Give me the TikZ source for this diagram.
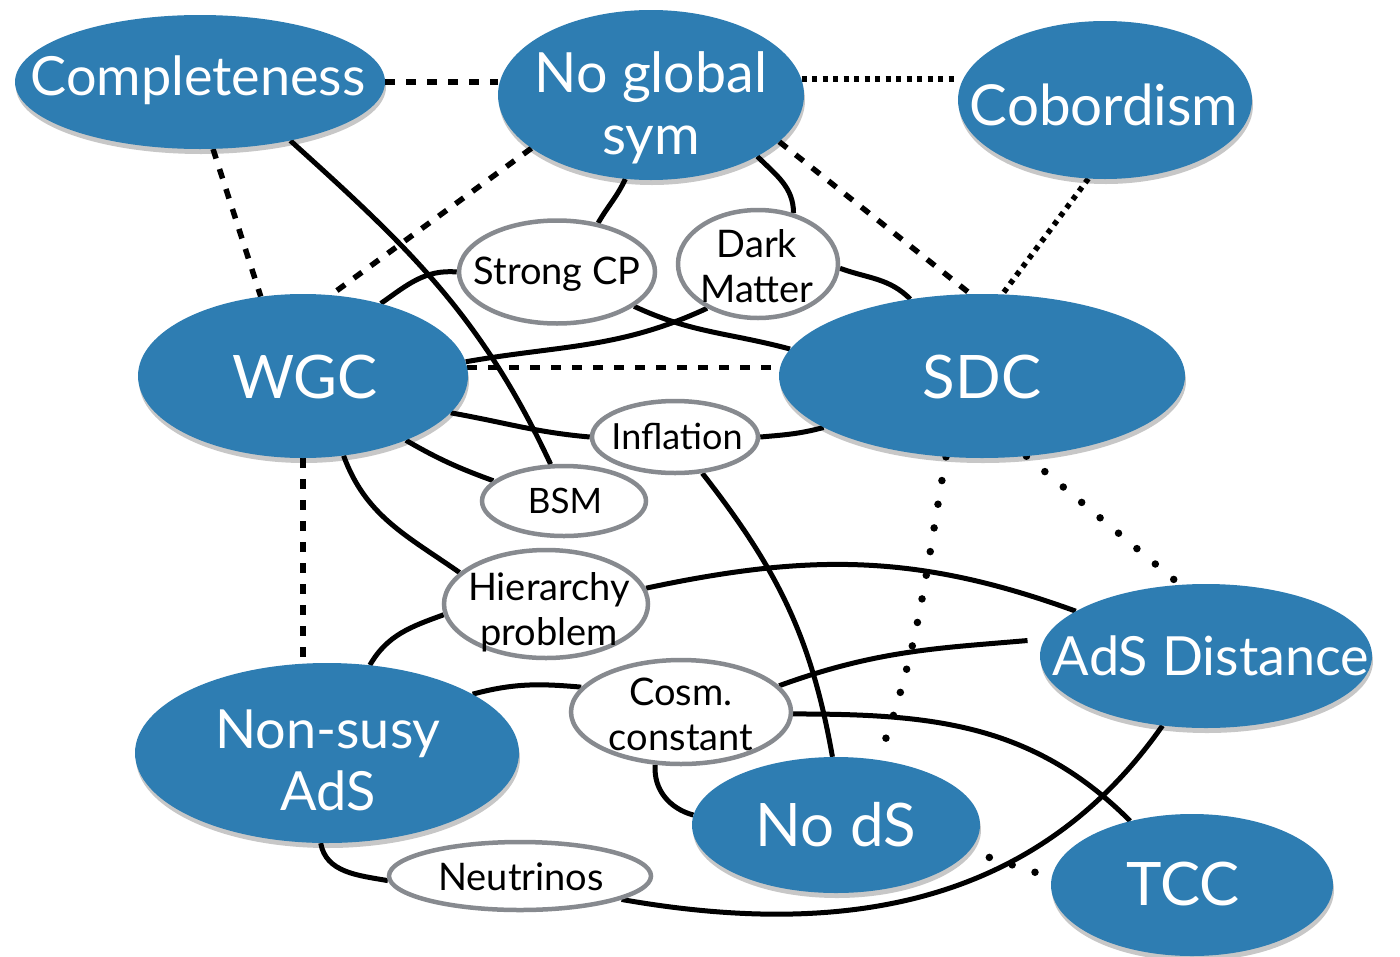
\documentclass[tikz,border=0pt]{standalone}
\usepackage{fontspec}
\setmainfont{Lato}
\usetikzlibrary{shapes.geometric,shadows,backgrounds}
\definecolor{nodeblue}{RGB}{46,125,178}
\definecolor{rimgray}{RGB}{135,138,143}
\begin{document}
\begin{tikzpicture}[x=1pt,y=-1pt,
  bigell/.style={ellipse, fill=nodeblue, inner sep=0pt,
    drop shadow={shadow xshift=1pt,shadow yshift=-5pt,opacity=0.22,fill=black}},
  bigtxt/.style={text=white, inner sep=0pt, align=center, font=\fontsize{54}{62}\selectfont},
  capstxt/.style={bigtxt, font=\fontsize{60}{62}\selectfont},
  smallell/.style={ellipse, draw=rimgray, line width=4.5pt, fill=white, inner sep=0pt},
  smalltxt/.style={text=black, inner sep=0pt, align=center, font=\fontsize{38}{45}\selectfont},
  link/.style={line width=5pt},
  dashlink/.style={line width=5.5pt, dash pattern=on 10pt off 11pt},
  sqdots/.style={line width=5.5pt, dash pattern=on 5pt off 5.5pt},
  rounddots/.style={line width=7.5pt, line cap=round, dash pattern=on 0pt off 24pt}]
\useasboundingbox (0,0) rectangle (1400,956);
\clip (0,0) rectangle (1400,956);

% big nodes
\node[bigell, minimum width=370pt, minimum height=134pt] (compl) at (200,82) {};
\node[bigell, minimum width=306pt, minimum height=170pt] (nog) at (651,95) {};
\node[bigell, minimum width=294pt, minimum height=158pt] (cob) at (1105,100) {};
\node[bigell, minimum width=330pt, minimum height=164pt] (wgc) at (303,376) {};
\node[bigell, minimum width=406pt, minimum height=164pt] (sdc) at (982,376) {};
\node[bigell, minimum width=332pt, minimum height=144pt] (ads) at (1206,656) {};
\node[bigell, minimum width=384pt, minimum height=180pt] (nons) at (327,753) {};
\node[bigell, minimum width=288pt, minimum height=136pt] (nods) at (836,825) {};
\node[bigell, minimum width=282pt, minimum height=142pt] (tcc) at (1192,885) {};

\node[bigtxt] (complt) at (198,80) {Completeness};
\node[bigtxt, font=\fontsize{55.5}{62}\selectfont] (nogt) at (651,108) {No global\\sym};
\node[bigtxt, font=\fontsize{56.5}{62}\selectfont] (cobt) at (1104,105) {Cobordism};
\node[capstxt] (wgct) at (305,377) {WGC};
\node[capstxt] (sdct) at (982,377) {SDC};
\node[bigtxt] (adst) at (1211,656) {AdS Distance};
\node[bigtxt] (nonst) at (328,760) {Non-susy\\AdS};
\node[capstxt] (nodst) at (836,825) {No dS};
\node[capstxt] (tcct) at (1183,884) {TCC};

% small nodes
\node[smallell, minimum width=196pt, minimum height=103pt] (scp) at (557,272) {};
\node[smallell, minimum width=160pt, minimum height=108pt] (dm) at (758,264) {};
\node[smallell, minimum width=166pt, minimum height=72pt] (infl) at (675,437) {};
\node[smallell, minimum width=164pt, minimum height=70pt] (bsm) at (564,501) {};
\node[smallell, minimum width=204pt, minimum height=108pt] (hier) at (546,604) {};
\node[smallell, minimum width=220pt, minimum height=104pt] (cosm) at (681,712) {};
\node[smallell, minimum width=262pt, minimum height=68pt] (neut) at (520,876) {};

\node[smalltxt] (scpt) at (557,274) {Strong CP};
\node[smalltxt] (dmt) at (757,266) {Dark\\Matter};
\node[smalltxt, font=\fontsize{36}{45}\selectfont] (inflt) at (677,436) {Inflation};
\node[smalltxt, font=\fontsize{35}{45}\selectfont] (bsmt) at (565,501) {BSM};
\node[smalltxt] (hiert) at (549,612) {Hierarchy\\problem};
\node[smalltxt] (cosmt) at (681,714) {Cosm.\\constant};
\node[smalltxt] (neutt) at (521,877) {Neutrinos};

\begin{pgfonlayer}{background}
% dashed
\draw[dashlink] (compl.east) -- (compl.east -| nog.west);
\draw[dashlink] (compl.-79) -- (wgc.118);
\draw[dashlink] (nog.-156) -- (wgc.71);
\draw[dashlink] (nog.-20) -- (sdc.98);
\draw[dashlink] (wgc.3.5) -- (wgc.3.5 -| sdc.west);
\draw[dashlink] (wgc.south) -- (wgc.south |- nons.north);
% dotted
\draw[sqdots] (nog.6) -- (nog.6 -| cob.west);
\draw[sqdots] (cob.-102) -- (sdc.76);
\draw[rounddots] (sdc.-114) to[out=-100,in=70] (nods.57);
\draw[rounddots] (sdc.-61) -- (ads.110);
\draw[rounddots, dash phase=3pt] (nods.-11) -- (tcc.177);
% solid
\draw[link] (compl.-33) to[out=-42,in=115] (bsm.110);
\draw[link] (nog.-107) to[out=-115,in=60] (scp.50);
\draw[link] (nog.-30) to[out=-45,in=90] (dm.55);
\draw[link] (scp.180) to[out=175,in=35] (wgc.43);
\draw[link] (scp.-24) to[out=-25,in=165] (sdc.172);
\draw[link] (dm.-139) to[out=-155,in=10] (wgc.5.6);
\draw[link] (dm.-3) to[out=-20,in=135] (sdc.133);
\draw[link] (wgc.-14) to[out=-10,in=175] (infl.180);
\draw[link] (infl.0) to[out=5,in=-165] (sdc.-162);
\draw[link] (wgc.-32) to[out=-30,in=160] (bsm.164);
\draw[link] (wgc.-63) to[out=-70,in=145] (hier.160);
\draw[link] (infl.-53) to[out=-52,in=100] (nods.93);
\draw[link] (hier.9) to[out=12,in=160] (ads.161);
\draw[link] (hier.-174) to[out=-160,in=60] (nons.64);
\draw[link] (cosm.166) to[out=175,in=15] (nons.22);
\draw[link, shorten >=17pt] (cosm.15) to[out=20,in=185] (ads.174);
\draw[link] (cosm.-1.5) to[out=0,in=135] (tcc.134);
\draw[link] (cosm.-116) to[out=-95,in=165] (nods.176);
\draw[link] (nons.-94) to[out=-80,in=170] (neut.182);
\draw[link] (neut.-13) to[out=-10,in=-125] (ads.-122);
\end{pgfonlayer}
\end{tikzpicture}
\end{document}
